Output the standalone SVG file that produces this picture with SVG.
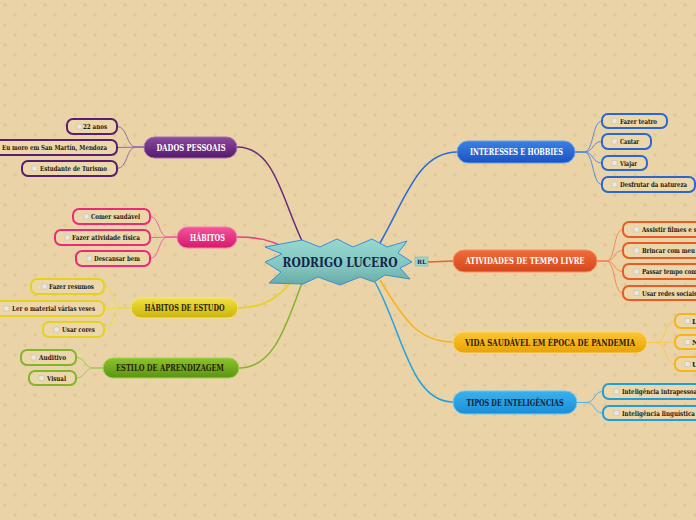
<svg xmlns="http://www.w3.org/2000/svg" width="696" height="520" viewBox="0 0 696 520">
<defs>
<pattern id="bgp" width="20" height="20" patternUnits="userSpaceOnUse">
<rect width="20" height="20" fill="#ead4a7"/>
<path d="M5,3v4M3,5h4M15,13v4M13,15h4" stroke="#dcc393" stroke-width="1"/>
</pattern>
<linearGradient id="gc" x1="0" y1="0" x2="0" y2="1"><stop offset="0" stop-color="#97d8d0"/><stop offset="0.6" stop-color="#82c6bf"/><stop offset="1" stop-color="#68aaa6"/></linearGradient>
<linearGradient id="gpur" x1="0" y1="0" x2="0" y2="1"><stop offset="0" stop-color="#8d4a9e"/><stop offset="1" stop-color="#55186a"/></linearGradient>
<linearGradient id="gpink" x1="0" y1="0" x2="0" y2="1"><stop offset="0" stop-color="#f4559a"/><stop offset="1" stop-color="#d6186c"/></linearGradient>
<linearGradient id="gyel" x1="0" y1="0" x2="0" y2="1"><stop offset="0" stop-color="#f0e040"/><stop offset="1" stop-color="#cdb40c"/></linearGradient>
<linearGradient id="ggrn" x1="0" y1="0" x2="0" y2="1"><stop offset="0" stop-color="#8cc42a"/><stop offset="1" stop-color="#5a9412"/></linearGradient>
<linearGradient id="gblu" x1="0" y1="0" x2="0" y2="1"><stop offset="0" stop-color="#3c80e4"/><stop offset="1" stop-color="#1a52c0"/></linearGradient>
<linearGradient id="gora" x1="0" y1="0" x2="0" y2="1"><stop offset="0" stop-color="#f06c3a"/><stop offset="1" stop-color="#d4461c"/></linearGradient>
<linearGradient id="gamb" x1="0" y1="0" x2="0" y2="1"><stop offset="0" stop-color="#fcc630"/><stop offset="1" stop-color="#e8a208"/></linearGradient>
<linearGradient id="glb" x1="0" y1="0" x2="0" y2="1"><stop offset="0" stop-color="#3ab2ee"/><stop offset="1" stop-color="#1a8ed6"/></linearGradient>
</defs>
<style>
.t{font-family:"DejaVu Serif","Liberation Serif",serif;font-weight:bold;}
.mt{font-size:9.5px;text-anchor:middle;}
.st{font-size:7px;fill:#1e1a14;}
.w{fill:#ffffff;}
.d{fill:#2b2208;}
.sub{fill:#ecd7ab;stroke-width:2;}
.cb{fill:#ebe8e2;stroke:#c4beb4;stroke-width:0.6;}
.c{fill:none;}
</style>
<rect width="696" height="520" fill="url(#bgp)"/>

<g id="connectors">
<path class="c" d="M237,147 C275,147 282,200 303,243" stroke="#6a2a7c" stroke-width="1.5"/>
<path class="c" d="M237,237 C258,237 270,240 284,247" stroke="#ec3a82" stroke-width="1.5"/>
<path class="c" d="M238,308 C265,308 280,296 293,280" stroke="#e6d21c" stroke-width="1.5"/>
<path class="c" d="M239,368 C275,368 287,322 302,283" stroke="#84b42a" stroke-width="1.5"/>
<path class="c" d="M457,152 C418,152 405,200 380,243" stroke="#2a6ad6" stroke-width="1.5"/>
<path class="c" d="M428,262 L453,261" stroke="#e8602a" stroke-width="1.5"/>
<path class="c" d="M380,280 C405,322 420,342 453,342" stroke="#f6b41a" stroke-width="1.5"/>
<path class="c" d="M375,282 C402,330 410,402 453,402" stroke="#20a2e2" stroke-width="1.5"/>

<g stroke="#9a6aa6" stroke-width="1" fill="none">
<path d="M144,147 L136,147 C126,147 128,126.5 117,126.5"/>
<path d="M144,147 L117,147.5"/>
<path d="M144,147 L136,147 C126,147 128,168.5 117,168.5"/>
</g>
<g stroke="#f0649a" stroke-width="1" fill="none">
<path d="M177,237 L168,237 C158,237 160,216.5 150,216.5"/>
<path d="M177,237 L150,237.5"/>
<path d="M177,237 L168,237 C158,237 160,258.5 150,258.5"/>
</g>
<g stroke="#e8dc50" stroke-width="1" fill="none">
<path d="M131,308 L122,308 C112,308 114,286.5 104,286.5"/>
<path d="M131,308 L104,308.5"/>
<path d="M131,308 L122,308 C112,308 114,329.5 104,329.5"/>
</g>
<g stroke="#a0c850" stroke-width="1" fill="none">
<path d="M103,368 L94,368 C84,368 86,357.5 76,357.5"/>
<path d="M103,368 L94,368 C84,368 86,378 76,378"/>
</g>
<g stroke="#5a8ad6" stroke-width="1" fill="none">
<path d="M575,152 L584,152 C594,152 592,121 602,121"/>
<path d="M575,152 L584,152 C594,152 592,141.5 602,141.5"/>
<path d="M575,152 L584,152 C594,152 592,163 602,163"/>
<path d="M575,152 L584,152 C594,152 592,184.5 602,184.5"/>
</g>
<g stroke="#f08a5a" stroke-width="1" fill="none">
<path d="M597,261 L606,261 C616,261 613,229.5 623,229.5"/>
<path d="M597,261 L606,261 C616,261 613,250.5 623,250.5"/>
<path d="M597,261 L606,261 C616,261 613,271.5 623,271.5"/>
<path d="M597,261 L606,261 C616,261 613,293 623,293"/>
</g>
<g stroke="#f8c850" stroke-width="1" fill="none">
<path d="M647,342.5 L656,342.5 C666,342.5 665,321 675,321"/>
<path d="M647,342.5 L675,342"/>
<path d="M647,342.5 L656,342.5 C666,342.5 665,364 675,364"/>
</g>
<g stroke="#50b4e6" stroke-width="1" fill="none">
<path d="M577,402.5 L586,402.5 C596,402.5 593,391.5 603,391.5"/>
<path d="M577,402.5 L586,402.5 C596,402.5 593,413 603,413"/>
</g>
</g>

<g id="central">
<path d="M265,247 L302,240 L320,247 L337,239 L353,247 L372,239 L387,247 L407,241 L398,253 L412,262 L400,268 L410,279 L385,275 L374,282 L360,277 L340,285 L318,277 L303,284 L269,283 L281,272 L265,262 L282,254 Z" fill="url(#gc)" stroke="#3a8ed4" stroke-width="1"/>
<text class="t" x="340" y="267" font-size="13.5" fill="#14264a" text-anchor="middle" textLength="115" lengthAdjust="spacingAndGlyphs">RODRIGO LUCERO</text>
</g>
<g id="rl">
<rect x="415" y="257" width="13" height="9" fill="#9cd6ce" stroke="#6ab0aa" stroke-width="0.5"/>
<text class="t" x="421.5" y="264" font-size="6" fill="#14264a" text-anchor="middle" font-weight="normal">RL</text>
</g>

<g id="dados-pessoais">
<rect x="144" y="137" width="93" height="21" rx="10.5" fill="url(#gpur)" stroke="#a070b4" stroke-width="1"/>
<text class="t mt w" x="191" y="150.5" textLength="69" lengthAdjust="spacingAndGlyphs">DADOS PESSOAIS</text>
</g>
<g id="dp-1"><rect class="sub" x="67" y="119" width="50" height="15" rx="6" stroke="#5a1e70"/><rect class="cb" x="77" y="124" width="5" height="5"/><text class="t st" x="83" y="129" textLength="24" lengthAdjust="spacingAndGlyphs">22 anos</text></g>
<g id="dp-2"><rect class="sub" x="-20" y="140" width="137" height="15" rx="6" stroke="#5a1e70"/><text class="t st" x="2" y="150" textLength="105" lengthAdjust="spacingAndGlyphs">Eu moro em San Martín, Mendoza</text></g>
<g id="dp-3"><rect class="sub" x="22" y="161" width="95" height="15" rx="6" stroke="#5a1e70"/><rect class="cb" x="32" y="166" width="5" height="5"/><text class="t st" x="40" y="171" textLength="67" lengthAdjust="spacingAndGlyphs">Estudante de Turismo</text></g>

<g id="habitos">
<rect x="177" y="227" width="60" height="21" rx="10.5" fill="url(#gpink)" stroke="#f480b0" stroke-width="1"/>
<text class="t mt w" x="207.5" y="240.5" textLength="35" lengthAdjust="spacingAndGlyphs">HÁBITOS</text>
</g>
<g id="h-1"><rect class="sub" x="73" y="209" width="77" height="15" rx="6" stroke="#ec2a78"/><rect class="cb" x="84" y="214" width="5" height="5"/><text class="t st" x="91" y="219" textLength="49" lengthAdjust="spacingAndGlyphs">Comer saudável</text></g>
<g id="h-2"><rect class="sub" x="55" y="230" width="95" height="15" rx="6" stroke="#ec2a78"/><rect class="cb" x="65" y="235" width="5" height="5"/><text class="t st" x="72" y="240" textLength="68" lengthAdjust="spacingAndGlyphs">Fazer atividade física</text></g>
<g id="h-3"><rect class="sub" x="76" y="251" width="74" height="15" rx="6" stroke="#ec2a78"/><rect class="cb" x="87" y="256" width="5" height="5"/><text class="t st" x="94" y="261" textLength="46" lengthAdjust="spacingAndGlyphs">Descansar bem</text></g>

<g id="habitos-de-estudo">
<rect x="131" y="298" width="107" height="20" rx="10" fill="url(#gyel)" stroke="#f4e870" stroke-width="1"/>
<text class="t mt d" x="184.5" y="311" textLength="80" lengthAdjust="spacingAndGlyphs">HÁBITOS DE ESTUDO</text>
</g>
<g id="he-1"><rect class="sub" x="31" y="279" width="73" height="15" rx="6" stroke="#e6d020"/><rect class="cb" x="42" y="284" width="5" height="5"/><text class="t st" x="49" y="289" textLength="45" lengthAdjust="spacingAndGlyphs">Fazer resumos</text></g>
<g id="he-2"><rect class="sub" x="-10" y="301" width="114" height="15" rx="6" stroke="#e6d020"/><rect class="cb" x="4" y="306" width="5" height="5"/><text class="t st" x="12" y="311" textLength="83" lengthAdjust="spacingAndGlyphs">Ler o material várias veses</text></g>
<g id="he-3"><rect class="sub" x="43" y="322" width="61" height="15" rx="6" stroke="#e6d020"/><rect class="cb" x="54" y="327" width="5" height="5"/><text class="t st" x="62" y="332" textLength="33" lengthAdjust="spacingAndGlyphs">Usar cores</text></g>

<g id="estilo-de-aprendizagem">
<rect x="103" y="358" width="136" height="20" rx="10" fill="url(#ggrn)" stroke="#a8d058" stroke-width="1"/>
<text class="t mt d" x="170" y="371" textLength="108" lengthAdjust="spacingAndGlyphs">ESTILO DE APRENDIZAGEM</text>
</g>
<g id="ea-1"><rect class="sub" x="21" y="350" width="55" height="15" rx="6" stroke="#84b42a"/><rect class="cb" x="31" y="355" width="5" height="5"/><text class="t st" x="39" y="360" textLength="27" lengthAdjust="spacingAndGlyphs">Auditivo</text></g>
<g id="ea-2"><rect class="sub" x="29" y="371" width="47" height="14" rx="6" stroke="#84b42a"/><rect class="cb" x="39" y="375.5" width="5" height="5"/><text class="t st" x="47" y="380.5" textLength="19" lengthAdjust="spacingAndGlyphs">Visual</text></g>

<g id="interesses-e-hobbies">
<rect x="457" y="141" width="118" height="22" rx="11" fill="url(#gblu)" stroke="#6aa0f0" stroke-width="1"/>
<text class="t mt w" x="516.5" y="155" textLength="93" lengthAdjust="spacingAndGlyphs">INTERESSES E HOBBIES</text>
</g>
<g id="ih-1"><rect class="sub" x="602" y="114" width="65" height="14" rx="6" stroke="#2a66d4"/><rect class="cb" x="612" y="118.5" width="5" height="5"/><text class="t st" x="620" y="123.5" textLength="37" lengthAdjust="spacingAndGlyphs">Fazer teatro</text></g>
<g id="ih-2"><rect class="sub" x="602" y="134" width="49" height="15" rx="6" stroke="#2a66d4"/><rect class="cb" x="612" y="139" width="5" height="5"/><text class="t st" x="620" y="144" textLength="19" lengthAdjust="spacingAndGlyphs">Cantar</text></g>
<g id="ih-3"><rect class="sub" x="602" y="156" width="45" height="14" rx="6" stroke="#2a66d4"/><rect class="cb" x="612" y="160.5" width="5" height="5"/><text class="t st" x="620" y="165.5" textLength="17" lengthAdjust="spacingAndGlyphs">Viajar</text></g>
<g id="ih-4"><rect class="sub" x="602" y="177" width="93" height="15" rx="6" stroke="#2a66d4"/><rect class="cb" x="612" y="182" width="5" height="5"/><text class="t st" x="620" y="187" textLength="67" lengthAdjust="spacingAndGlyphs">Desfrutar da natureza</text></g>

<g id="atividades-de-tempo-livre">
<rect x="453" y="250" width="144" height="22" rx="11" fill="url(#gora)" stroke="#f49068" stroke-width="1"/>
<text class="t mt w" x="525" y="264" textLength="119" lengthAdjust="spacingAndGlyphs">ATIVIDADES DE TEMPO LIVRE</text>
</g>
<g id="at-1"><rect class="sub" x="623" y="222" width="90" height="15" rx="6" stroke="#e85a26"/><rect class="cb" x="634" y="227" width="5" height="5"/><text class="t st" x="642" y="232" textLength="55" lengthAdjust="spacingAndGlyphs">Assistir filmes e s</text></g>
<g id="at-2"><rect class="sub" x="623" y="243" width="90" height="15" rx="6" stroke="#e85a26"/><rect class="cb" x="634" y="248" width="5" height="5"/><text class="t st" x="642" y="253" textLength="53" lengthAdjust="spacingAndGlyphs">Brincar com meu</text></g>
<g id="at-3"><rect class="sub" x="623" y="264" width="90" height="15" rx="6" stroke="#e85a26"/><rect class="cb" x="634" y="269" width="5" height="5"/><text class="t st" x="642" y="274" textLength="55" lengthAdjust="spacingAndGlyphs">Passar tempo com</text></g>
<g id="at-4"><rect class="sub" x="623" y="286" width="90" height="14" rx="6" stroke="#e85a26"/><rect class="cb" x="634" y="290.5" width="5" height="5"/><text class="t st" x="642" y="295.5" textLength="55" lengthAdjust="spacingAndGlyphs">Usar redes sociais</text></g>

<g id="vida-saudavel">
<rect x="453" y="332" width="194" height="21" rx="10.5" fill="url(#gamb)" stroke="#fcd870" stroke-width="1"/>
<text class="t mt d" x="550" y="345.5" textLength="170" lengthAdjust="spacingAndGlyphs">VIDA SAUDÁVEL EM ÉPOCA DE PANDEMIA</text>
</g>
<g id="vs-1"><rect class="sub" x="675" y="314" width="40" height="14" rx="6" stroke="#f6b418"/><rect class="cb" x="685" y="318.5" width="5" height="5"/><text class="t st" x="692" y="323.5">L</text></g>
<g id="vs-2"><rect class="sub" x="675" y="335" width="40" height="14" rx="6" stroke="#f6b418"/><rect class="cb" x="685" y="339.5" width="5" height="5"/><text class="t st" x="692" y="344.5">N</text></g>
<g id="vs-3"><rect class="sub" x="675" y="357" width="40" height="14" rx="6" stroke="#f6b418"/><rect class="cb" x="685" y="361.5" width="5" height="5"/><text class="t st" x="692" y="366.5">U</text></g>

<g id="tipos-de-inteligencias">
<rect x="453" y="391" width="124" height="23" rx="11.5" fill="url(#glb)" stroke="#70c8f4" stroke-width="1"/>
<text class="t mt" x="515" y="405.5" fill="#10203c" textLength="97" lengthAdjust="spacingAndGlyphs">TIPOS DE INTELIGÊNCIAS</text>
</g>
<g id="ti-1"><rect class="sub" x="603" y="384" width="110" height="15" rx="6" stroke="#1e9ee0"/><rect class="cb" x="614" y="389" width="5" height="5"/><text class="t st" x="622" y="394" textLength="75" lengthAdjust="spacingAndGlyphs">Inteligência intrapessoa</text></g>
<g id="ti-2"><rect class="sub" x="603" y="406" width="110" height="14" rx="6" stroke="#1e9ee0"/><rect class="cb" x="614" y="410.5" width="5" height="5"/><text class="t st" x="622" y="415.5" textLength="73" lengthAdjust="spacingAndGlyphs">Inteligência linguística</text></g>
</svg>
